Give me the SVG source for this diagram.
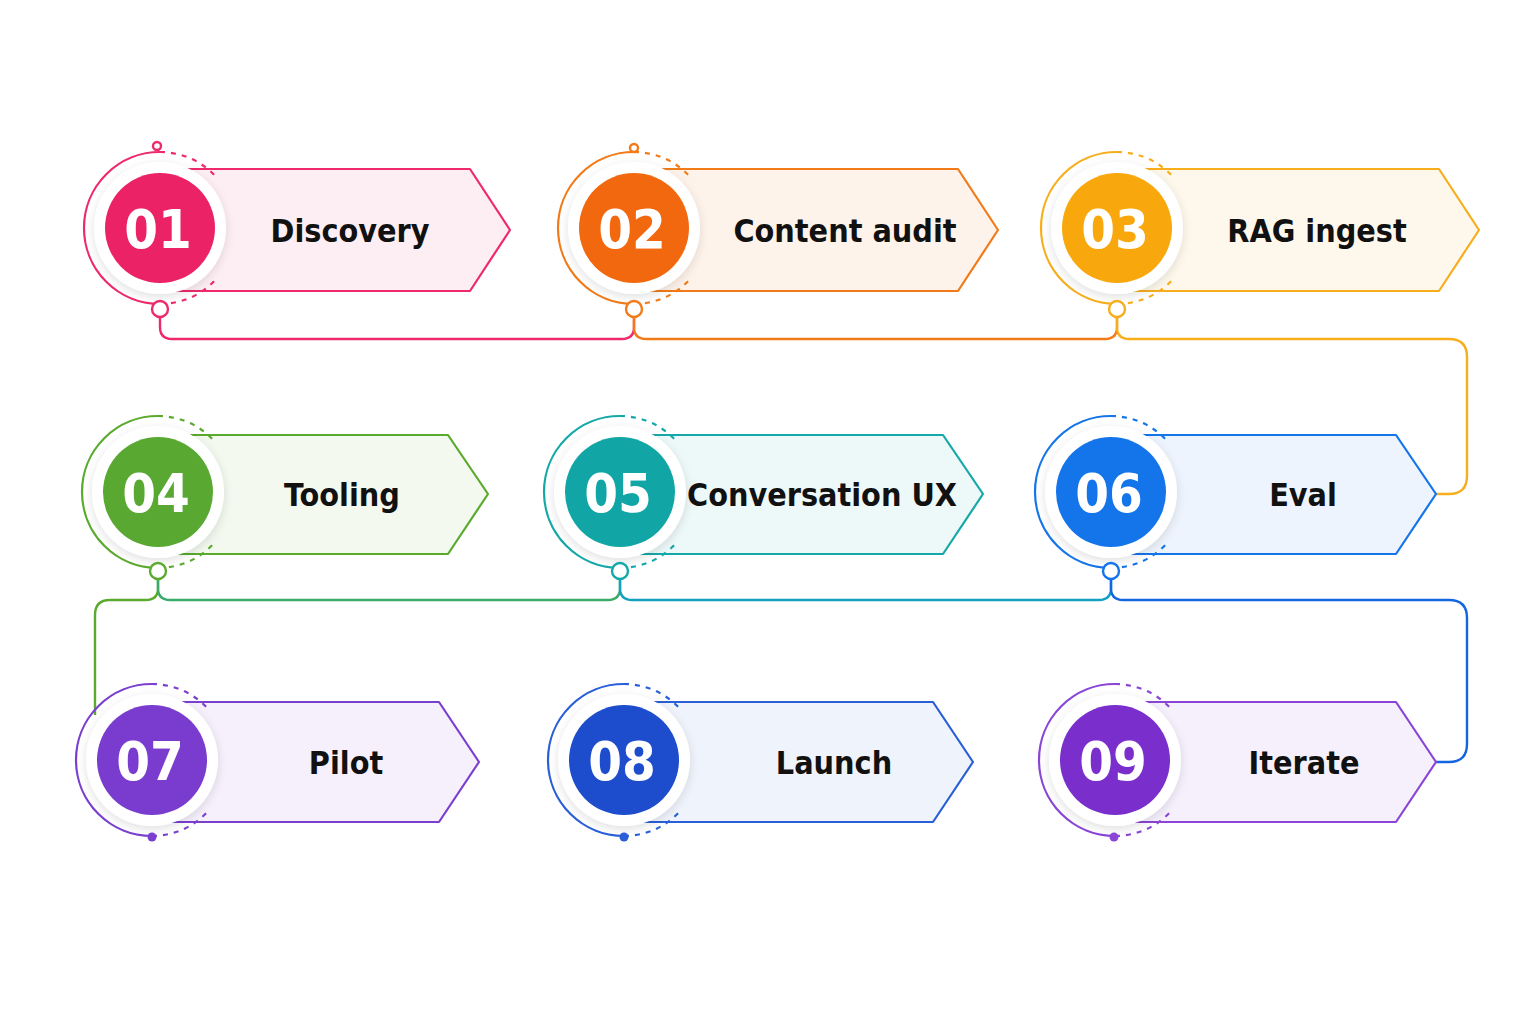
<svg xmlns="http://www.w3.org/2000/svg" width="1535" height="1024" viewBox="0 0 1535 1024">
<defs>
<filter id="sh" x="-30%" y="-30%" width="160%" height="160%"><feDropShadow dx="0" dy="3" stdDeviation="5" flood-color="#000" flood-opacity="0.12"/></filter>
<style>
.box{stroke-width:2.2;stroke-linejoin:round}
.ring{fill:none;stroke-width:2.2}
.dash{fill:none;stroke-width:2.2;stroke-dasharray:5 6}
.halo{fill:#fff;filter:url(#sh)}
.num{font-family:"DejaVu Sans",sans-serif;font-stretch:condensed;font-weight:bold;font-size:54px;fill:#fff;text-anchor:middle}
.lbl{font-family:"DejaVu Sans",sans-serif;font-stretch:condensed;font-weight:bold;font-size:32px;fill:#111;text-anchor:middle}
.con{fill:none;stroke-width:2.4}
.knob{fill:#fff;stroke-width:2.4}
</style>
</defs>
<rect width="1535" height="1024" fill="#fff"/>
<g id="connectors">
<path class="con" stroke="#ee2a6a" d="M160,317 V327 Q160,339 172,339 H622 Q634,339 634,327 V317"/>
<path class="con" stroke="#f27a18" d="M634,317 V327 Q634,339 646,339 H1105 Q1117,339 1117,327 V317"/>
<path class="con" stroke="#f7ae1c" d="M1117,317 V327 Q1117,339 1129,339 H1449 Q1467,339 1467,357 V476 Q1467,494 1449,494 H1436"/>
<path class="con" stroke="#5aaa2e" d="M158,579 V588 Q158,600 146,600 H110 Q95,600 95,615 V715"/>
<path class="con" stroke="#3aaa6a" d="M158,579 V588 Q158,600 170,600 H608 Q620,600 620,588 V579"/>
<path class="con" stroke="#14a0c0" d="M620,579 V588 Q620,600 632,600 H1099 Q1111,600 1111,588 V579"/>
<path class="con" stroke="#1466e0" d="M1111,579 V588 Q1111,600 1123,600 H1449 Q1467,600 1467,618 V744 Q1467,762 1449,762 H1436"/>
</g>
<g id="n01">
<path class="box" fill="#fdeef3" stroke="#ee2a6a" d="M160,169 H470 L510,230 L470,291 H160 Z"/>
<path class="ring" stroke="#ee2a6a" d="M160,152 A76,76 0 0 0 160,304"/>
<path class="dash" stroke="#ee2a6a" d="M160,152 A76,76 0 0 1 218,179 M160,304 A76,76 0 0 0 218,277"/>
<circle class="halo" cx="160" cy="228" r="66"/>
<circle cx="160" cy="228" r="55" fill="#ec2266"/>
<circle class="knob" stroke="#ee2a6a" cx="157" cy="146" r="4"/>
<circle class="knob" stroke="#ee2a6a" cx="160" cy="309" r="8"/>
<text class="num" x="158" y="248">01</text>
<text class="lbl" x="350" y="242">Discovery</text>
</g>
<g id="n02">
<path class="box" fill="#fef3ea" stroke="#f27a18" d="M634,169 H958 L998,230 L958,291 H634 Z"/>
<path class="ring" stroke="#f27a18" d="M634,152 A76,76 0 0 0 634,304"/>
<path class="dash" stroke="#f27a18" d="M634,152 A76,76 0 0 1 692,179 M634,304 A76,76 0 0 0 692,277"/>
<circle class="halo" cx="634" cy="228" r="66"/>
<circle cx="634" cy="228" r="55" fill="#f2680e"/>
<circle class="knob" stroke="#f27a18" cx="634" cy="148" r="4"/>
<circle class="knob" stroke="#f27a18" cx="634" cy="309" r="8"/>
<text class="num" x="632" y="248">02</text>
<text class="lbl" x="845" y="242">Content audit</text>
</g>
<g id="n03">
<path class="box" fill="#fef8ec" stroke="#f7ae1c" d="M1117,169 H1439 L1479,230 L1439,291 H1117 Z"/>
<path class="ring" stroke="#f7ae1c" d="M1117,152 A76,76 0 0 0 1117,304"/>
<path class="dash" stroke="#f7ae1c" d="M1117,152 A76,76 0 0 1 1175,179 M1117,304 A76,76 0 0 0 1175,277"/>
<circle class="halo" cx="1117" cy="228" r="66"/>
<circle cx="1117" cy="228" r="55" fill="#f8a80c"/>
<circle class="knob" stroke="#f7ae1c" cx="1117" cy="309" r="8"/>
<text class="num" x="1115" y="248">03</text>
<text class="lbl" x="1317" y="242">RAG ingest</text>
</g>
<g id="n04">
<path class="box" fill="#f3f9ef" stroke="#5aaa2e" d="M158,435 H448 L488,494 L448,554 H158 Z"/>
<path class="ring" stroke="#5aaa2e" d="M158,416 A76,76 0 0 0 158,568"/>
<path class="dash" stroke="#5aaa2e" d="M158,416 A76,76 0 0 1 216,443 M158,568 A76,76 0 0 0 216,541"/>
<circle class="halo" cx="158" cy="492" r="66"/>
<circle cx="158" cy="492" r="55" fill="#58a832"/>
<circle class="knob" stroke="#5aaa2e" cx="158" cy="571" r="8"/>
<text class="num" x="156" y="512">04</text>
<text class="lbl" x="342" y="506">Tooling</text>
</g>
<g id="n05">
<path class="box" fill="#edf8f8" stroke="#14a8a8" d="M620,435 H943 L983,494 L943,554 H620 Z"/>
<path class="ring" stroke="#14a8a8" d="M620,416 A76,76 0 0 0 620,568"/>
<path class="dash" stroke="#14a8a8" d="M620,416 A76,76 0 0 1 678,443 M620,568 A76,76 0 0 0 678,541"/>
<circle class="halo" cx="620" cy="492" r="66"/>
<circle cx="620" cy="492" r="55" fill="#12a5a5"/>
<circle class="knob" stroke="#14a8a8" cx="620" cy="571" r="8"/>
<text class="num" x="618" y="512">05</text>
<text class="lbl" x="822" y="506">Conversation UX</text>
</g>
<g id="n06">
<path class="box" fill="#eef4fd" stroke="#1474ea" d="M1111,435 H1396 L1436,494 L1396,554 H1111 Z"/>
<path class="ring" stroke="#1474ea" d="M1111,416 A76,76 0 0 0 1111,568"/>
<path class="dash" stroke="#1474ea" d="M1111,416 A76,76 0 0 1 1169,443 M1111,568 A76,76 0 0 0 1169,541"/>
<circle class="halo" cx="1111" cy="492" r="66"/>
<circle cx="1111" cy="492" r="55" fill="#1474ea"/>
<circle class="knob" stroke="#1474ea" cx="1111" cy="571" r="8"/>
<text class="num" x="1109" y="512">06</text>
<text class="lbl" x="1303" y="506">Eval</text>
</g>
<g id="n07">
<path class="box" fill="#f5f0fc" stroke="#7b3fd0" d="M152,702 H439 L479,762 L439,822 H152 Z"/>
<path class="ring" stroke="#7b3fd0" d="M152,684 A76,76 0 0 0 152,836"/>
<path class="dash" stroke="#7b3fd0" d="M152,684 A76,76 0 0 1 210,711 M152,836 A76,76 0 0 0 210,809"/>
<circle class="halo" cx="152" cy="760" r="66"/>
<circle cx="152" cy="760" r="55" fill="#7a3ccf"/>
<circle cx="152" cy="837" r="4.5" fill="#7b3fd0"/>
<text class="num" x="150" y="780">07</text>
<text class="lbl" x="346" y="774">Pilot</text>
</g>
<g id="n08">
<path class="box" fill="#eff3fc" stroke="#2a5fd8" d="M624,702 H933 L973,762 L933,822 H624 Z"/>
<path class="ring" stroke="#2a5fd8" d="M624,684 A76,76 0 0 0 624,836"/>
<path class="dash" stroke="#2a5fd8" d="M624,684 A76,76 0 0 1 682,711 M624,836 A76,76 0 0 0 682,809"/>
<circle class="halo" cx="624" cy="760" r="66"/>
<circle cx="624" cy="760" r="55" fill="#1d4dcc"/>
<circle cx="624" cy="837" r="4.5" fill="#2a5fd8"/>
<text class="num" x="622" y="780">08</text>
<text class="lbl" x="834" y="774">Launch</text>
</g>
<g id="n09">
<path class="box" fill="#f5f0fc" stroke="#8a45d6" d="M1115,702 H1396 L1436,762 L1396,822 H1115 Z"/>
<path class="ring" stroke="#8a45d6" d="M1115,684 A76,76 0 0 0 1115,836"/>
<path class="dash" stroke="#8a45d6" d="M1115,684 A76,76 0 0 1 1173,711 M1115,836 A76,76 0 0 0 1173,809"/>
<circle class="halo" cx="1115" cy="760" r="66"/>
<circle cx="1115" cy="760" r="55" fill="#7a2fcc"/>
<circle cx="1114" cy="837" r="4.5" fill="#8a45d6"/>
<text class="num" x="1113" y="780">09</text>
<text class="lbl" x="1304" y="774">Iterate</text>
</g>
</svg>
